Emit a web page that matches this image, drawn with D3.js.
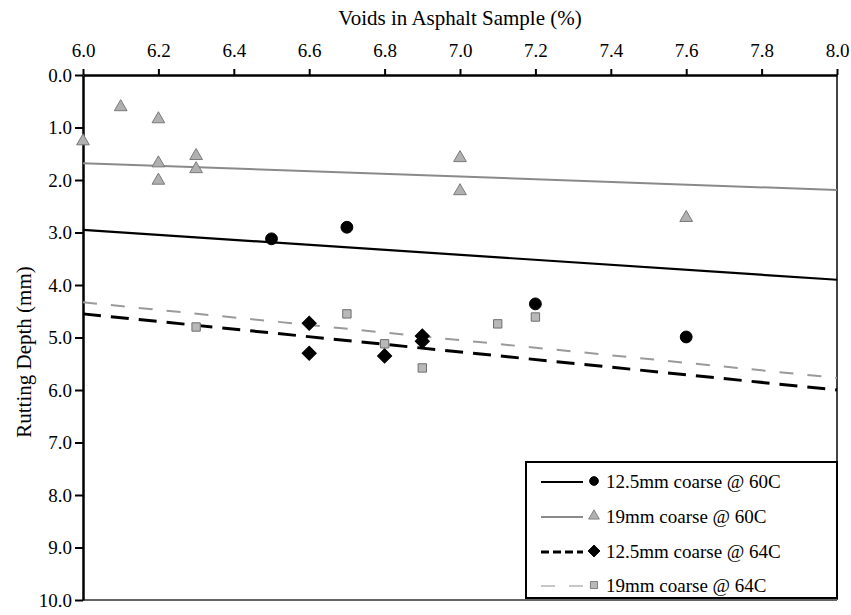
<!DOCTYPE html>
<html>
<head>
<meta charset="utf-8">
<script src="https://cdn.jsdelivr.net/npm/d3@7"></script>
<style>
  body { margin: 0; background: #fff; }
  text { font-family: "Liberation Serif", "Times New Roman", serif; fill: #000; }
</style>
</head>
<body>
<div id="chart"></div>
<script>
// void content (%) vs rutting depth (mm)
var xTicks = [6.0, 6.2, 6.4, 6.6, 6.8, 7.0, 7.2, 7.4, 7.6, 7.8, 8.0];
var yTicks = [0, 1, 2, 3, 4, 5, 6, 7, 8, 9, 10];

var voids125_60 = [6.5, 6.7, 7.2, 7.6];
var rut125_60   = [3.12, 2.90, 4.36, 4.99];

var voids19_60 = [6.0, 6.1, 6.2, 6.2, 6.2, 6.3, 6.3, 7.0, 7.0, 7.6];
var rut19_60   = [1.26, 0.61, 0.84, 1.68, 2.01, 1.54, 1.79, 1.58, 2.21, 2.72];

var voids125_64 = [6.6, 6.6, 6.8, 6.9, 6.9];
var rut125_64   = [4.73, 5.30, 5.35, 4.97, 5.07];

var voids19_64 = [6.3, 6.7, 6.8, 6.9, 7.1, 7.2];
var rut19_64   = [4.80, 4.55, 5.12, 5.58, 4.74, 4.61];

// trend lines, value at x = 6.0 and x = 8.0
var trendX      = [6.0, 8.0];
var trend125_60 = [2.95, 3.90];
var trend19_60  = [1.68, 2.19];
var trend125_64 = [4.55, 6.00];
var trend19_64  = [4.33, 5.77];

var seriesNames = ["12.5mm coarse @ 60C", "19mm coarse @ 60C", "12.5mm coarse @ 64C", "19mm coarse @ 64C"];

var W = 851, H = 615;
var pLeft = 83, pRight = 837, pTop = 75, pBottom = 600;
var serif = '"Liberation Serif", "Times New Roman", serif';

var svg = d3.select("#chart").append("svg")
    .attr("width", W)
    .attr("height", H);

var x = d3.scaleLinear().domain([6, 8]).range([pLeft, pRight]);
var y = d3.scaleLinear().domain([0, 10]).range([pTop, pBottom]);

// frame (right + bottom)
svg.append("line").attr("x1", pRight).attr("x2", pRight).attr("y1", pTop).attr("y2", pBottom)
    .style("stroke", "#444").style("stroke-width", 2);
svg.append("line").attr("x1", pLeft).attr("x2", pRight).attr("y1", pBottom).attr("y2", pBottom)
    .style("stroke", "#666").style("stroke-width", 2);

// top axis
var xAxis = svg.append("g")
    .attr("transform", "translate(0," + pTop + ")")
    .call(d3.axisTop(x).tickValues(xTicks).tickFormat(d3.format(".1f")).tickSizeInner(6).tickSizeOuter(0).tickPadding(12));
xAxis.select(".domain").style("stroke-width", 2.5);
xAxis.selectAll(".tick line").style("stroke-width", 2);
xAxis.selectAll("text").style("font-size", "19px").style("font-family", serif);

// left axis
var yAxis = svg.append("g")
    .attr("transform", "translate(" + pLeft + ",0)")
    .call(d3.axisLeft(y).tickValues(yTicks).tickFormat(d3.format(".1f")).tickSizeInner(8).tickSizeOuter(0).tickPadding(3));
yAxis.select(".domain").style("stroke-width", 2.5);
yAxis.selectAll(".tick line").style("stroke-width", 2);
yAxis.selectAll("text").style("font-size", "19px").style("font-family", serif);

svg.append("text")
    .attr("x", (pLeft + pRight) / 2).attr("y", 25)
    .attr("text-anchor", "middle")
    .style("font-size", "21px")
    .text("Voids in Asphalt Sample (%)");

svg.append("text")
    .attr("transform", "translate(31,352) rotate(-90)")
    .attr("text-anchor", "middle")
    .style("font-size", "21px")
    .text("Rutting Depth (mm)");

// trend lines
var line = d3.line().x(function(d) { return x(d[0]); }).y(function(d) { return y(d[1]); });
var trends = [
  { v: trend19_60,  color: "#8a8a8a", w: 2,   dash: null },
  { v: trend125_60, color: "#000",    w: 2.2, dash: null },
  { v: trend19_64,  color: "#9a9a9a", w: 2,   dash: "14,14" },
  { v: trend125_64, color: "#000",    w: 3,   dash: "18,10" }
];
svg.selectAll("path.trend")
    .data(trends)
    .enter()
    .append("path")
    .attr("class", "trend")
    .attr("d", function(t) { return line(trendX.map(function(xv, i) { return [xv, t.v[i]]; })); })
    .style("fill", "none")
    .style("stroke", function(t) { return t.color; })
    .style("stroke-width", function(t) { return t.w; })
    .style("stroke-dasharray", function(t) { return t.dash; });

var zip = function(a, b) { return a.map(function(v, i) { return [v, b[i]]; }); };

var sym = {
  circle:   d3.symbol().type(d3.symbolCircle).size(110),
  triangle: d3.symbol().type(d3.symbolTriangle).size(70),
  diamond:  d3.symbol().type(d3.symbolSquare).size(100),
  square:   d3.symbol().type(d3.symbolSquare).size(70)
};
var styles = [
  { shape: "circle",   fill: "#000",    stroke: "#000",    rot: 0 },
  { shape: "triangle", fill: "#b0b0b0", stroke: "#7a7a7a", rot: 0 },
  { shape: "diamond",  fill: "#000",    stroke: "#000",    rot: 45 },
  { shape: "square",   fill: "#b8b8b8", stroke: "#6e6e6e", rot: 0 }
];
var pointSets = [
  zip(voids125_60, rut125_60),
  zip(voids19_60, rut19_60),
  zip(voids125_64, rut125_64),
  zip(voids19_64, rut19_64)
];

pointSets.forEach(function(pts, k) {
  var s = styles[k];
  svg.append("g").selectAll("path")
      .data(pts)
      .enter()
      .append("path")
      .attr("d", sym[s.shape])
      .attr("transform", function(d) { return "translate(" + x(d[0]) + "," + y(d[1]) + ") rotate(" + s.rot + ")"; })
      .style("fill", s.fill)
      .style("stroke", s.stroke)
      .style("stroke-width", 1);
});

// legend
var lg = svg.append("g");
lg.append("rect")
    .attr("x", 526).attr("y", 462).attr("width", 311).attr("height", 136)
    .style("fill", "#fff").style("stroke", "#000").style("stroke-width", 2);

var legendRows = [482, 517, 552, 586];
var legendLines = [trends[1], trends[0], trends[3], { color: "#b5b5b5", w: 1.5, dash: "14,14" }];
seriesNames.forEach(function(name, k) {
  var ly = legendRows[k];
  lg.append("line")
      .attr("x1", 541).attr("x2", 583).attr("y1", ly).attr("y2", ly)
      .style("stroke", legendLines[k].color)
      .style("stroke-width", legendLines[k].w)
      .style("stroke-dasharray", k == 2 ? "8,4" : legendLines[k].dash);
  var s = styles[k];
  lg.append("path")
      .attr("d", s.shape == "circle" ? d3.symbol().type(d3.symbolCircle).size(60)() : sym[s.shape]())
      .attr("transform", "translate(594," + (ly - 1) + ") rotate(" + s.rot + ") scale(" + (s.shape == "circle" ? 1 : 0.85) + ")")
      .style("fill", s.fill)
      .style("stroke", s.stroke);
  lg.append("text")
      .attr("x", 606).attr("y", ly + 6)
      .style("font-size", "19px")
      .text(name);
});
</script>
</body>
</html>
